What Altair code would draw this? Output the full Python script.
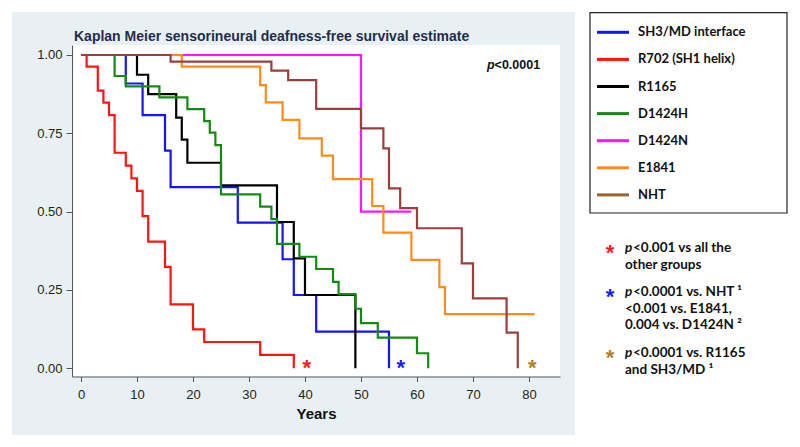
import altair as alt
import pandas as pd

# ---------------- data ----------------
groups = ["SH3/MD interface", "R702 (SH1 helix)", "R1165", "D1424H", "D1424N", "E1841", "NHT"]
line_colors = ["#1414ff", "#ff1414", "#000000", "#148a14", "#ff14ff", "#ff8c1a", "#9b3e3e"]
legend_colors = ["#1414ff", "#ff1414", "#000000", "#148a14", "#ff14ff", "#ff8c1a", "#9a6432"]

times = {
    "SH3/MD interface": [0, 8, 11, 15, 16, 28, 36, 38, 42, 55],
    "R702 (SH1 helix)": [0, 1, 3, 4, 5, 6, 8, 9, 10, 11, 12, 15, 16, 20, 22, 32, 38],
    "R1165": [0, 10, 12, 17, 18, 19, 25, 35, 38, 40, 49],
    "D1424H": [0, 6, 8, 14, 19, 22, 23, 24, 25, 32, 34, 35, 39, 42, 45, 46, 49, 50, 53, 60, 62],
    "D1424N": [0, 50, 59],
    "E1841": [0, 18, 32, 33, 36, 39, 43, 45, 52, 54, 59, 64, 65, 81],
    "NHT": [0, 16, 34, 37, 42, 50, 54, 55, 57, 60, 68, 70, 76, 78],
}
surv = {
    "SH3/MD interface": [1, 0.909, 0.808, 0.695, 0.578, 0.465, 0.348, 0.234, 0.117, 0],
    "R702 (SH1 helix)": [1, 0.963, 0.886, 0.848, 0.808, 0.688, 0.647, 0.606, 0.566, 0.486,
                         0.404, 0.324, 0.204, 0.124, 0.084, 0.043, 0],
    "R1165": [1, 0.937, 0.875, 0.80, 0.73, 0.656, 0.584, 0.467, 0.351, 0.234, 0],
    "D1424H": [1, 0.933, 0.90, 0.865, 0.827, 0.789, 0.752, 0.712, 0.555, 0.516, 0.476,
               0.397, 0.356, 0.317, 0.276, 0.237, 0.19, 0.144, 0.098, 0.048, 0],
    "D1424N": [1, 0.5, 0.5],
    "E1841": [1, 0.963, 0.904, 0.849, 0.793, 0.734, 0.679, 0.604, 0.518, 0.433, 0.346,
              0.259, 0.173, 0.173],
    "NHT": [1, 0.979, 0.95, 0.92, 0.828, 0.766, 0.702, 0.574, 0.511, 0.447, 0.335,
            0.223, 0.114, 0],
}

star_t = [40.3, 57.1, 80.6]
star_s = [0.017, 0.017, 0.017]
star_colors = ["#ff1a1a", "#1a1aff", "#b5811a"]

x_ticks = [0, 10, 20, 30, 40, 50, 60, 70, 80]
y_ticks = [0, 0.25, 0.5, 0.75, 1.0]

title_text = "Kaplan Meier sensorineural deafness-free survival estimate"
pvalue_text = ["p", "<0.0001"]
notes = [
    [("p", "<0.001 vs all the"), ("", "other groups")],
    [("p", "<0.0001 vs. NHT \u00b9"), ("", "<0.001 vs. E1841,"), ("", "0.004 vs. D1424N \u00b2")],
    [("p", "<0.0001 vs. R1165"), ("", "and SH3/MD \u00b9")],
]

# ---------------- layout / style ----------------
W, H = 488, 331.5
FONT = "Liberation Sans"
NOTE_FONT = "Lato"

rows = []
for g in groups:
    for t, s in zip(times[g], surv[g]):
        rows.append({"group": g, "t": t, "s": s})
km = pd.DataFrame(rows)
stars = pd.DataFrame({"t": star_t, "s": star_s, "c": star_colors})
one = pd.DataFrame({"a": [0]})

xenc = alt.X("t:Q", scale=alt.Scale(domain=[-1.607, 85.54], nice=False, zero=False),
             axis=alt.Axis(values=x_ticks, format="d", title="Years", grid=False,
                           tickSize=5, labelPadding=7, titlePadding=5, zindex=1,
                           labelFont=FONT, labelFontSize=13, labelColor="#222",
                           titleFont=FONT, titleFontSize=15, titleFontWeight="bold",
                           titleColor="#111", domainColor="#555", tickColor="#555"))
yenc = alt.Y("s:Q", scale=alt.Scale(domain=[-0.0262, 1.0319], nice=False, zero=False),
             axis=alt.Axis(values=y_ticks, format=".2f", title=None, grid=False,
                           tickSize=6, labelPadding=4, zindex=1,
                           labelFont=FONT, labelFontSize=13, labelColor="#222",
                           domainColor="#555", tickColor="#555"))

layers = []
# graph region (grey) and plot region (white)
layers.append(alt.Chart(one).mark_rect(color="#e9f0f3").encode(
    x=alt.value(-60), x2=alt.value(503), y=alt.value(-33), y2=alt.value(390)))
layers.append(alt.Chart(one).mark_rect(color="white").encode(
    x=alt.value(0), x2=alt.value(W), y=alt.value(0), y2=alt.value(H)))

for g, c in zip(groups, line_colors):
    layers.append(
        alt.Chart(km).transform_filter(alt.datum.group == g)
        .mark_line(interpolate="step-after", strokeWidth=2.2, color=c)
        .encode(x=xenc, y=yenc)
    )

layers.append(
    alt.Chart(stars).mark_text(font=FONT, fontSize=22, fontWeight="bold",
                               baseline="alphabetic", dy=12)
    .encode(x="t:Q", y="s:Q", text=alt.value("*"), color=alt.Color("c:N", scale=None))
)

def txt(s, x, y, **kw):
    return alt.Chart(one).mark_text(**kw).encode(
        x=alt.value(x), y=alt.value(y), text=alt.value(s))

# title
layers.append(txt(title_text, 2, -4.3, align="left", baseline="alphabetic", font=FONT,
                  fontSize=14, fontWeight="bold", color="#1f2d4f"))
# p-value in plot
layers.append(txt(pvalue_text[0], 415, 24, align="left", baseline="alphabetic", font=FONT,
                  fontSize=12.5, fontWeight="bold", fontStyle="italic", color="#111"))
layers.append(txt(pvalue_text[1], 422.6, 24, align="left", baseline="alphabetic", font=FONT,
                  fontSize=12.5, fontWeight="bold", color="#111"))

# legend box
LX0, LX1, LY0, LY1 = 518, 715, -32.3, 168
layers.append(alt.Chart(one).mark_rect(fill="white", stroke="#222", strokeWidth=1.2).encode(
    x=alt.value(LX0), x2=alt.value(LX1), y=alt.value(LY0), y2=alt.value(LY1)))
for i, (g, c) in enumerate(zip(groups, legend_colors)):
    yy = -12.7 + i * 27.1
    layers.append(alt.Chart(one).mark_rule(color=c, strokeWidth=3).encode(
        x=alt.value(525), x2=alt.value(557), y=alt.value(yy)))
    layers.append(txt(g, 566, yy, align="left", baseline="middle", font=NOTE_FONT,
                      fontSize=13, fontWeight="bold", color="#111"))

# notes with asterisks
note_y0 = [203, 247, 308]
for block, y0, c in zip(notes, note_y0, star_colors):
    layers.append(txt("*", 538, y0 + 12, align="center", baseline="alphabetic", font=FONT,
                      fontSize=22, fontWeight="bold", color=c))
    for j, (p, rest) in enumerate(block):
        yy = y0 + j * 16.6
        if p:
            layers.append(txt(p, 553, yy, align="left", baseline="middle", font=NOTE_FONT,
                              fontSize=13.5, fontWeight="bold", fontStyle="italic", color="#111"))
            layers.append(txt(rest, 561, yy, align="left", baseline="middle", font=NOTE_FONT,
                              fontSize=13.5, fontWeight="bold", color="#111"))
        else:
            layers.append(txt(rest, 553, yy, align="left", baseline="middle", font=NOTE_FONT,
                              fontSize=13.5, fontWeight="bold", color="#111"))

chart = alt.layer(*layers).properties(
    width=W, height=H,
    padding={"left": 64, "top": 37, "right": 228, "bottom": 60},
    autosize=alt.AutoSizeParams(type="none"),
    background="white",
).configure_view(strokeWidth=0)

chart.save("out.html", embed_options={"renderer": "svg", "actions": False})
